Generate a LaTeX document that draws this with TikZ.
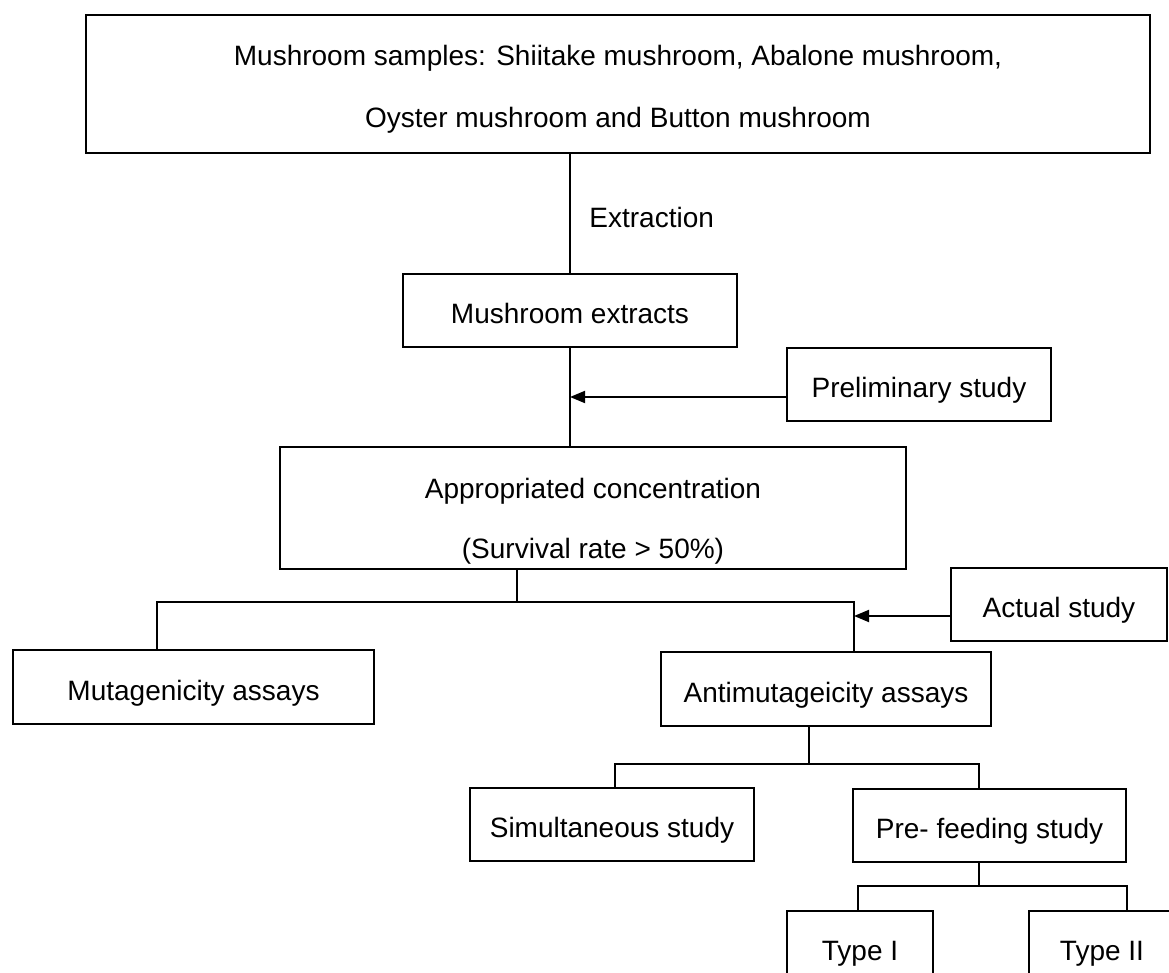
\documentclass[tikz,border=0pt]{standalone}
\usepackage{fontspec}
\setmainfont{Liberation Sans}
\usetikzlibrary{arrows.meta,calc}
\begin{document}
\begin{tikzpicture}[x=0.5pt,y=-0.5pt,
  box/.style={draw, line width=1.1pt, inner sep=0pt, align=center, font=\fontsize{14}{17}\selectfont},
  one/.style={text height=13pt, text depth=0pt},
  conn/.style={line width=0.9pt},
  arr/.style={line width=0.9pt, -{Triangle[length=7.5pt,width=6pt]}},
  lbl/.style={inner sep=0pt, align=center, font=\fontsize{14}{17}\selectfont}]
\clip (0,0) rectangle (1169,973);
\fill[white] (0,0) rectangle (1169,973);
% boxes
\node[box, minimum width=532pt, minimum height=69pt] (top) at (618,84) {};
\node[lbl, font=\fontsize{14}{31}\selectfont] (toptxt) at (618,89)
  {Mushroom samples: Shiitake mushroom, Abalone mushroom,\\Oyster mushroom and Button mushroom};
\node[lbl, anchor=west] (ext) at (589,217) {Extraction};
\node[box, one, minimum width=167pt, minimum height=36.5pt] (extracts) at (570,310.5) {Mushroom extracts};
\node[box, one, minimum width=132pt, minimum height=36.5pt] (prelim) at (919,384.5) {Preliminary study};
\node[box, minimum width=313pt, minimum height=61pt] (approp) at (593,508) {};
\node[lbl, font=\fontsize{14}{30}\selectfont] (approptxt) at (593,521) {Appropriated concentration\\(Survival rate > 50\%)};
\node[box, one, minimum width=108pt, minimum height=36.5pt] (actual) at (1059,604.5) {Actual study};
\node[box, one, minimum width=180.5pt, minimum height=37pt] (mutag) at (193.5,687) {Mutagenicity assays};
\node[box, one, minimum width=165pt, minimum height=37pt] (antimut) at (826,689) {Antimutageicity assays};
\node[box, one, minimum width=142pt, minimum height=36.5pt] (simult) at (612,824.5) {Simultaneous study};
\node[box, one, minimum width=136.5pt, minimum height=36.5pt] (prefeed) at (989.5,825.5) {Pre- feeding study};
\node[box, one, minimum width=73pt, minimum height=36.5pt] (typeI) at (860,947.5) {Type I};
\node[box, one, minimum width=73pt, minimum height=36.5pt] (typeII) at (1102,947.5) {Type II};
% junctions
\coordinate (jm) at (517,602);
\coordinate (jl) at (157,602);
\coordinate (jr) at (854,602);
\coordinate (km) at (809,764);
\coordinate (kl) at (615,764);
\coordinate (kr) at (979,764);
\coordinate (lm) at (979,886);
\coordinate (ll) at (858,886);
\coordinate (lr) at (1127,886);
% connectors
\draw[conn] (top.south -| extracts.north) -- (extracts.north);
\draw[conn] (extracts.south) -- (extracts.south |- approp.north);
\draw[arr] ([yshift=-6.25pt]prelim.west) -- ([yshift=-6.25pt]prelim.west -| extracts.south);
\draw[conn] (approp.south -| jm) -- (jm);
\draw[conn] (mutag.north -| jl) -- (jl) -- (jr) -- (antimut.north -| jr);
\draw[arr] ([yshift=-5.75pt]actual.west) -- ([yshift=-5.75pt]actual.west -| jr);
\draw[conn] (antimut.south -| km) -- (km);
\draw[conn] (simult.north -| kl) -- (kl) -- (kr) -- (prefeed.north -| kr);
\draw[conn] (prefeed.south -| lm) -- (lm);
\draw[conn] (typeI.north -| ll) -- (ll) -- (lr) -- (typeII.north -| lr);
\end{tikzpicture}
\end{document}
